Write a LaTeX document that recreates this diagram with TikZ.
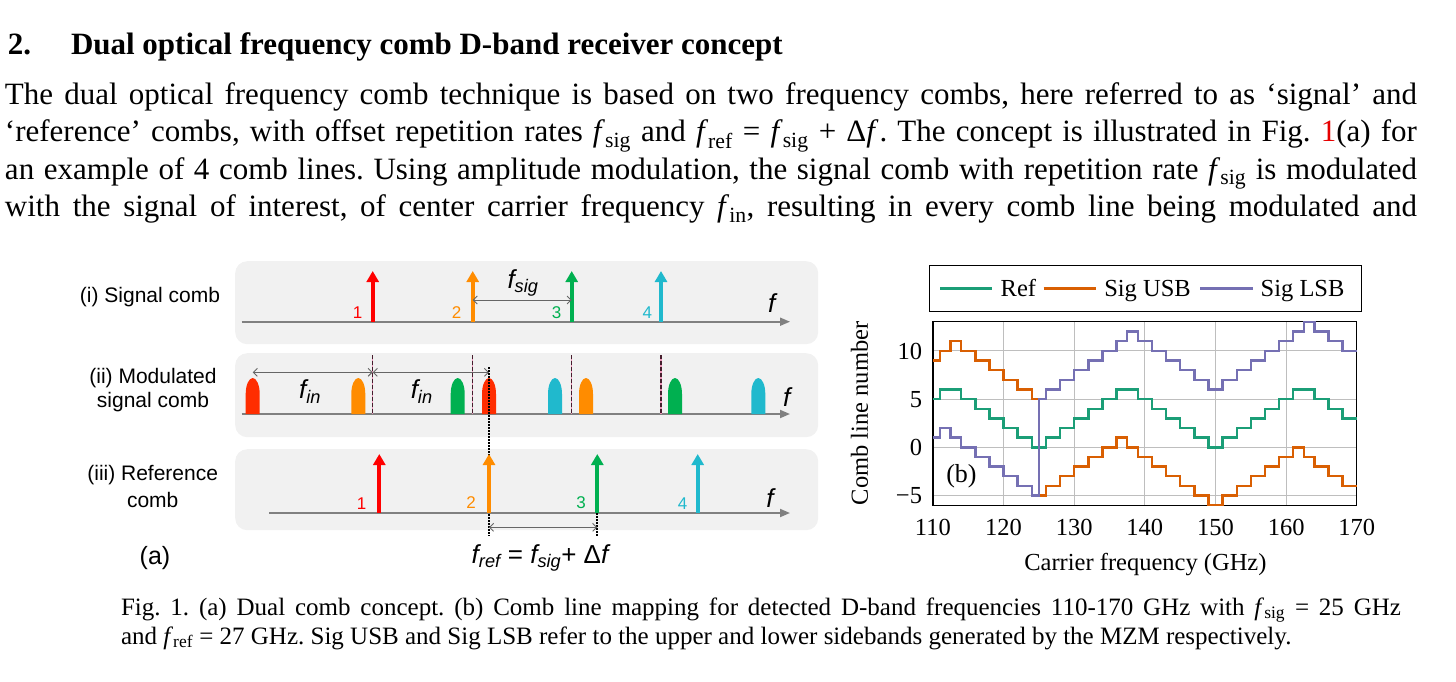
\documentclass[tikz,border=0pt]{standalone}
\usepackage{fontspec}
\setmainfont{Liberation Serif}
\newfontfamily\arialf{Liberation Sans}
\usetikzlibrary{arrows.meta}
\frenchspacing

\definecolor{boxgray}{RGB}{241,241,241}
\definecolor{axgray}{RGB}{128,128,128}
\definecolor{cred}{RGB}{255,0,0}
\definecolor{corange}{RGB}{255,140,0}
\definecolor{cgreen}{RGB}{0,176,80}
\definecolor{ccyan}{RGB}{32,185,205}
\definecolor{pred}{RGB}{255,45,0}
\definecolor{dkgreen}{RGB}{27,158,119}
\definecolor{dkorange}{RGB}{217,95,2}
\definecolor{dkpurple}{RGB}{117,112,179}
\definecolor{gridgray}{RGB}{190,190,190}
\definecolor{refred}{RGB}{230,0,0}
\definecolor{dashdark}{RGB}{70,30,45}
\definecolor{dashpink}{RGB}{235,150,185}

\newcommand\bodyfont{\fontsize{31}{37.5}\selectfont}
\newcommand\capfont{\fontsize{25}{29}\selectfont}
\newcommand\plotfont{\fontsize{24.5}{28}\selectfont}
\newcommand\afont[1]{\fontsize{#1}{#1}\selectfont\arialf}
\newcommand\mysub[1]{\textsubscript{#1}}
\newcommand\fsym[1]{\textit{f}\mysub{#1}}
\newcommand\afsym[1]{{\itshape f}\textsubscript{\itshape #1}}
\newcommand\mypulse[2]{\fill[#2] (#1-7,414) -- ++(0,-20) arc[start angle=180,end angle=0,x radius=7pt,y radius=16pt] -- ++(0,20) -- cycle;}

\begin{document}
\begin{tikzpicture}[x=1pt,y=-1pt,
  txt/.style={inner sep=0pt,outer sep=0pt},
  panelbox/.style={fill=boxgray,rounded corners=12pt,inner sep=0pt,anchor=north west},
  axisline/.style={draw=axgray,line width=1.8pt,-{Triangle[width=8pt,length=10pt]}},
  combarrow/.style={line width=4pt,-{Triangle[width=12pt,length=11pt]}},
  dimline/.style={draw=black!60,line width=0.9pt,{Straight Barb[length=4pt,width=8pt]}-{Straight Barb[length=4pt,width=8pt]}},
  dotline/.style={black,line width=2pt,dash pattern=on 1.5pt off 1.5pt},
  numlbl/.style={txt,font=\afont{17}},
  sidelbl/.style={txt,font=\afont{21},align=center},
  flbl/.style={txt,font=\afont{26}},
  curve/.style={line width=2.4pt,const plot},
  gridline/.style={draw=gridgray,line width=1pt}]

\useasboundingbox (0,0) rectangle (1456,681);

% ---------- heading and paragraph ----------
\node[txt,anchor=base west] (secnum) at (8,54) {\bodyfont\bfseries 2.};
\node[txt,anchor=base west] (sectitle) at (71,54) {\bodyfont\bfseries Dual optical frequency comb D-band receiver concept};

\node[txt,anchor=base west] (p1) at (5,104) {\bodyfont\makebox[1412pt][s]{The dual optical frequency comb technique is based on two frequency combs, here referred to as ‘signal’ and}};
\node[txt,anchor=base west] (p2) at (5,141.5) {\bodyfont\makebox[1412pt][s]{‘reference’ combs, with offset repetition rates \fsym{sig} and \fsym{ref} = \fsym{sig} + Δ\textit{f}\kern1pt. The concept is illustrated in Fig. \textcolor{refred}{1}(a) for}};
\node[txt,anchor=base west] (p3) at (5,179) {\bodyfont\makebox[1412pt][s]{an example of 4 comb lines. Using amplitude modulation, the signal comb with repetition rate \fsym{sig} is modulated}};
\node[txt,anchor=base west] (p4) at (5,216.5) {\bodyfont\makebox[1412pt][s]{with the signal of interest, of center carrier frequency \fsym{in}, resulting in every comb line being modulated and}};

% ---------- caption ----------
\node[txt,anchor=base west] (c1) at (121,615) {\capfont\makebox[1280pt][s]{Fig. 1. (a) Dual comb concept. (b) Comb line mapping for detected D-band frequencies 110-170 GHz with \fsym{sig} = 25 GHz}};
\node[txt,anchor=base west] (c2) at (121,644) {\capfont and \fsym{ref} = 27 GHz. Sig USB and Sig LSB refer to the upper and lower sidebands generated by the MZM respectively.};

% ---------- panel (a) ----------
\node[panelbox,minimum width=583pt,minimum height=83pt] (box1) at (235,261) {};
\node[panelbox,minimum width=583pt,minimum height=84pt] (box2) at (235,353) {};
\node[panelbox,minimum width=583pt,minimum height=81pt] (box3) at (235,449) {};

\node[sidelbl] (lab1) at (150,296.7) {(i) Signal comb};
\node[sidelbl] (lab2a) at (153,378) {(ii) Modulated};
\node[sidelbl] (lab2b) at (153,401.7) {signal comb};
\node[sidelbl] (lab3a) at (152.7,475) {(iii) Reference};
\node[sidelbl] (lab3b) at (152.7,500) {comb};

% axes
\coordinate (a1s) at (241.7,321.7); \coordinate (a1e) at (790,321.7);
\coordinate (a2s) at (241.7,414); \coordinate (a2e) at (790,414);
\coordinate (a3s) at (269,513); \coordinate (a3e) at (790,513);
\draw[axisline] (a1s) -- (a1e);
\draw[axisline] (a2s) -- (a2e);
\draw[axisline] (a3s) -- (a3e);
\node[flbl] (fax1) at (771.7,303) {\itshape f};
\node[flbl] (fax2) at (786.7,396.7) {\itshape f};
\node[flbl] (fax3) at (770,498) {\itshape f};

% (i) signal comb
\draw[combarrow,cred] (372.7,321.7) -- (372.7,271);
\draw[combarrow,corange] (472.7,321.7) -- (472.7,271);
\draw[combarrow,cgreen] (571.7,321.7) -- (571.7,271);
\draw[combarrow,ccyan] (661,321.7) -- (661,271);
\node[numlbl,text=cred] (n11) at (357.7,313) {1};
\node[numlbl,text=corange] (n12) at (456.7,312.7) {2};
\node[numlbl,text=cgreen] (n13) at (556.7,312.7) {3};
\node[numlbl,text=ccyan] (n14) at (647.3,312.7) {4};
\coordinate (fs1) at (472.7,300); \coordinate (fs2) at (571.7,300);
\draw[dimline] (fs1) -- (fs2);
\node[flbl] (fsiglbl) at (523,283) {\afsym{sig}};

% (ii) modulated signal comb
\foreach \xx in {372.7,472.7,571.7,661}{
  \draw[dashpink,line width=1.2pt] (\xx,355) -- (\xx,414);
  \draw[dashdark,line width=1.2pt,dash pattern=on 4pt off 2pt] (\xx,355) -- (\xx,414);
}
\mypulse{252.7}{pred}
\mypulse{358.3}{corange}
\mypulse{457.7}{cgreen}
\mypulse{489}{pred}
\mypulse{555}{ccyan}
\mypulse{586}{corange}
\mypulse{675}{cgreen}
\mypulse{758.3}{ccyan}
\coordinate (fi0) at (252.7,372.3); \coordinate (fi1) at (372.7,372.3); \coordinate (fi2) at (489,372.3);
\draw[dimline] (fi0) -- (fi1);
\draw[dimline] (fi1) -- (fi2);
\node[flbl] (fin1) at (310,391.7) {\afsym{in}};
\node[flbl] (fin2) at (421.7,391.7) {\afsym{in}};

% dotted guide lines
\draw[dotline] (489,367) -- (489,536);
\draw[dotline] (597.3,513) -- (597.3,536);

% (iii) reference comb
\draw[combarrow,cred] (379.3,513) -- (379.3,454);
\draw[combarrow,corange] (489,513) -- (489,454);
\draw[combarrow,cgreen] (597.3,513) -- (597.3,454);
\draw[combarrow,ccyan] (697.7,513) -- (697.7,454);
\node[numlbl,text=cred] (n31) at (361.7,503.3) {1};
\node[numlbl,text=corange] (n32) at (471,502.7) {2};
\node[numlbl,text=cgreen] (n33) at (581,502.7) {3};
\node[numlbl,text=ccyan] (n34) at (682.7,503.3) {4};
\coordinate (fr1) at (489,527.3); \coordinate (fr2) at (597.3,527.3);
\draw[dimline] (fr1) -- (fr2);
\node[flbl] (freflbl) at (540,558) {\afsym{ref} = \afsym{sig}+ Δ{\itshape f}};
\node[txt,font=\afont{25}] (alabel) at (155,558) {(a)};

% ---------- panel (b) ----------
\begin{scope}[shift={(155.75,447.3)},x=7.065pt,y=9.65pt]
  \foreach \gx in {120,130,140,150,160} \draw[gridline] (\gx,-6) -- (\gx,13);
  \foreach \gy in {-5,0,5,10} \draw[gridline] (110,\gy) -- (170,\gy);
  \draw[black,line width=1.2pt] (110,-6) rectangle (170,13);
  \draw[curve,dkgreen] plot coordinates {(110,5) (111,6) (114,5) (116,4) (118,3) (120,2) (122,1) (124,0) (126,1) (128,2) (130,3) (132,4) (134,5) (136,6) (139,5) (141,4) (143,3) (145,2) (147,1) (149,0) (151,1) (153,2) (155,3) (157,4) (159,5) (161,6) (164,5) (166,4) (168,3) (170,3)};
  \draw[curve,dkorange] plot coordinates {(110,9) (111,10) (112.5,11) (114,10) (116,9) (118,8) (120,7) (122,6) (124,5) (125,-5) (126,-4) (128,-3) (130,-2) (132,-1) (134,0) (136,1) (137.5,0) (139,-1) (141,-2) (143,-3) (145,-4) (147,-5) (149,-6) (151,-5) (153,-4) (155,-3) (157,-2) (159,-1) (161,0) (162.5,-1) (164,-2) (166,-3) (168,-4) (170,-4)};
  \draw[curve,dkpurple] plot coordinates {(110,1) (111,2) (112.5,1) (114,0) (116,-1) (118,-2) (120,-3) (122,-4) (124,-5) (125,5) (126,6) (128,7) (130,8) (132,9) (134,10) (136,11) (137.5,12) (139,11) (141,10) (143,9) (145,8) (147,7) (149,6) (151,7) (153,8) (155,9) (157,10) (159,11) (161,12) (162.5,13) (164,12) (166,11) (168,10) (170,10)};
\end{scope}

\foreach \lab/\px in {110/932.9,120/1003.55,130/1074.2,140/1144.85,150/1215.5,160/1286.15,170/1356.8}
  \node[txt,anchor=base,font=\plotfont] (xt\lab) at (\px,535) {\lab};
\node[txt,anchor=base east,font=\plotfont] (yt10) at (922,359) {10};
\node[txt,anchor=base east,font=\plotfont] (yt5) at (922,407.3) {5};
\node[txt,anchor=base east,font=\plotfont] (yt0) at (922,455.5) {0};
\node[txt,anchor=base east,font=\plotfont] (ytm5) at (922,503.8) {−5};
\node[txt,font=\plotfont] (xlabel) at (1145.4,565) {Carrier frequency (GHz)};
\node[txt,font=\plotfont,rotate=90] (ylabel) at (859.6,413.4) {Comb line number};
\node[txt,font=\fontsize{26}{26}\selectfont] (blabel) at (961.4,476.7) {(b)};

% legend
\node[draw=black,line width=1.2pt,inner sep=0pt,anchor=north west,minimum width=432pt,minimum height=46pt] (legend) at (928.6,265) {};
\coordinate (lg1a) at (940,288.3); \coordinate (lg1b) at (991.8,288.3);
\coordinate (lg2a) at (1043.6,288.3); \coordinate (lg2b) at (1096.4,288.3);
\coordinate (lg3a) at (1200,288.3); \coordinate (lg3b) at (1252.5,288.3);
\draw[dkgreen,line width=2.4pt] (lg1a) -- (lg1b);
\draw[dkorange,line width=2.4pt] (lg2a) -- (lg2b);
\draw[dkpurple,line width=2.4pt] (lg3a) -- (lg3b);
\node[txt,anchor=base west,font=\plotfont] (lgt1) at (1000.7,296.5) {Ref};
\node[txt,anchor=base west,font=\plotfont] (lgt2) at (1104.3,296.5) {Sig USB};
\node[txt,anchor=base west,font=\plotfont] (lgt3) at (1260.7,296.5) {Sig LSB};

\end{tikzpicture}
\end{document}
